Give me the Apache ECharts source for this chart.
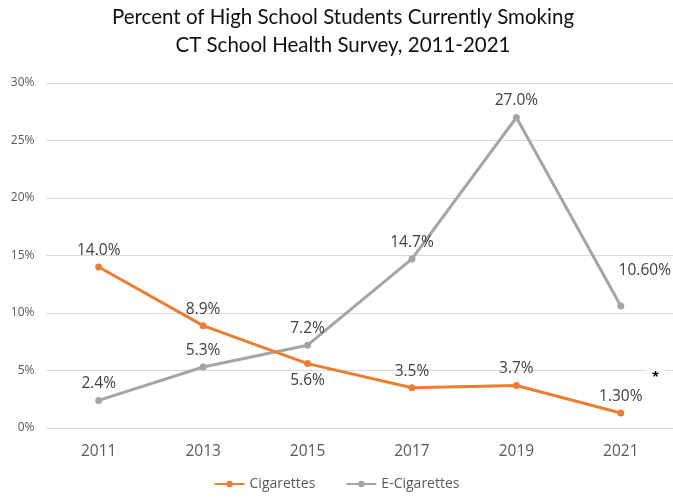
<!DOCTYPE html>
<html>
<head>
<meta charset="utf-8">
<script src="https://cdn.jsdelivr.net/npm/echarts@6/dist/echarts.min.js"></script>
<style>
  html, body { margin: 0; padding: 0; background: #fff; }
  #main { width: 673px; height: 497px; }
</style>
</head>
<body>
<div id="main"></div>
<script>
// survey years
const years = ['2011', '2013', '2015', '2017', '2019', '2021'];
// percent currently smoking
const cigarettes = [14.0, 8.9, 5.6, 3.5, 3.7, 1.3];
const eCigarettes = [2.4, 5.3, 7.2, 14.7, 27.0, 10.6];
// labels as printed on the chart
const cigLabels = ['14.0%', '8.9%', '5.6%', '3.5%', '3.7%', '1.30%'];
const eCigLabels = ['2.4%', '5.3%', '7.2%', '14.7%', '27.0%', '10.60%'];
const yTicks = [0, 5, 10, 15, 20, 25, 30];

const titleFont = 'Lato, sans-serif';
const font = '"Open Sans", sans-serif';
const chart = echarts.init(document.getElementById('main'));

const cigData = cigarettes.map((v, i) => {
  let d = { value: v, label: { formatter: cigLabels[i] } };
  if (i === 2) d.label.position = 'bottom';
  return d;
});
const eCigData = eCigarettes.map((v, i) => {
  let d = { value: v, label: { formatter: eCigLabels[i] } };
  if (i === 5) {
    d.label.offset = [24, -19];
    d.label.backgroundColor = '#fff';
  }
  return d;
});

chart.setOption({
  animation: false,
  textStyle: { fontFamily: font },
  title: {
    text: 'Percent of High School Students Currently Smoking\nCT School Health Survey, 2011-2021',
    left: 338,
    top: -2,
    textAlign: 'center',
    textStyle: { fontSize: 20.5, fontWeight: 'normal', color: '#111', lineHeight: 28, fontFamily: titleFont }
  },
  legend: {
    bottom: 1,
    left: 'center',
    itemGap: 30,
    itemWidth: 30,
    itemHeight: 8,
    textStyle: { fontSize: 14, color: '#595959', fontFamily: font },
    data: ['Cigarettes', 'E-Cigarettes']
  },
  grid: { left: 46.5, right: -6, top: 83, bottom: 69 },
  xAxis: {
    type: 'category',
    data: years,
    boundaryGap: true,
    axisLine: { lineStyle: { color: '#d9d9d9' } },
    axisTick: { show: false },
    axisLabel: { color: '#595959', fontSize: 15.5, margin: 16, fontFamily: font }
  },
  yAxis: {
    type: 'value',
    min: yTicks[0],
    max: yTicks[yTicks.length - 1],
    interval: 5,
    axisLine: { show: false },
    axisTick: { show: false },
    axisLabel: { color: '#595959', fontSize: 12, margin: 12, formatter: '{value}%', fontFamily: font },
    splitLine: { lineStyle: { color: '#d9d9d9', width: 1 } }
  },
  series: [
    {
      name: 'Cigarettes',
      type: 'line',
      data: cigData,
      symbol: 'circle',
      symbolSize: 7,
      itemStyle: { color: '#ED7D31' },
      lineStyle: { color: '#ED7D31', width: 3 },
      label: { show: true, position: 'top', distance: 5, color: '#404040', fontSize: 15.5, fontFamily: font },
      z: 3
    },
    {
      name: 'E-Cigarettes',
      type: 'line',
      data: eCigData,
      symbol: 'circle',
      symbolSize: 7,
      itemStyle: { color: '#A5A5A5' },
      lineStyle: { color: '#A5A5A5', width: 3 },
      label: { show: true, position: 'top', distance: 5, color: '#404040', fontSize: 15.5, fontFamily: font },
      z: 2
    }
  ],
  graphic: [
    {
      type: 'text',
      left: 646,
      top: 369,
      z: 100,
      style: {
        text: '*',
        font: 'bold 13px ' + font,
        fill: '#000',
        backgroundColor: '#fff',
        padding: [2, 6, 0, 6]
      }
    }
  ]
});
</script>
</body>
</html>
